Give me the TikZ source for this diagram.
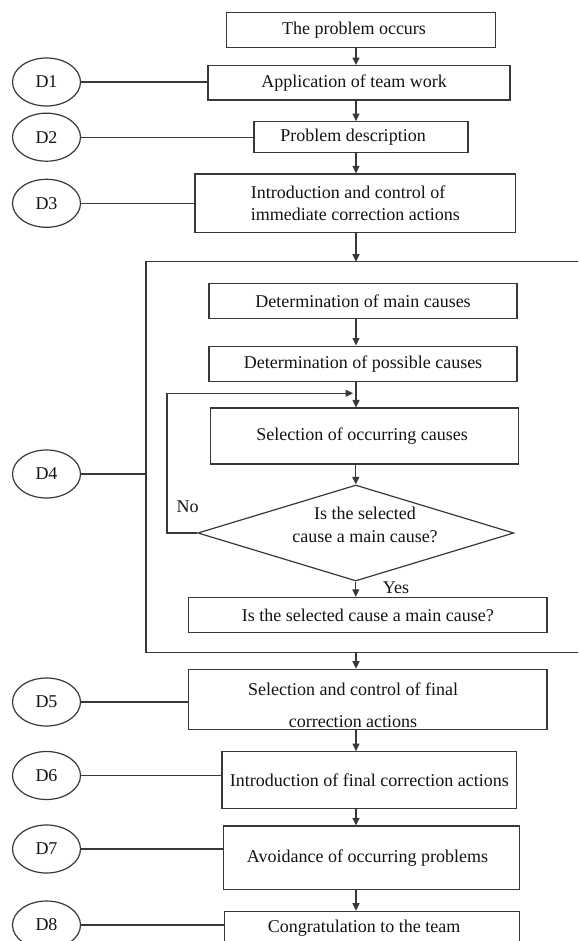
\documentclass[tikz,border=0pt]{standalone}
\usepackage{fontspec}
\setmainfont{Liberation Serif}
\usetikzlibrary{shapes.geometric,arrows.meta}
\begin{document}
\begin{tikzpicture}[x=1pt,y=-1pt,
  line/.style={draw=black!78,line width=1.2pt},
  arr/.style={line,-{Triangle[length=7.5pt,width=7pt]}},
  txtfont/.style={font=\fontsize{18}{21.6}\selectfont,text=black!92},
  box/.style={line,rectangle,inner sep=0pt,align=center,txtfont},
  dnode/.style={line,ellipse,minimum width=68pt,minimum height=48pt,inner sep=0pt,txtfont},
  lbl/.style={inner sep=0pt,align=center,txtfont},
  dia/.style={line,diamond,minimum width=316pt,minimum height=96pt,inner sep=0pt,aspect=3.29}]
\useasboundingbox (0,0) rectangle (578,941);
\fill[white] (0,0) rectangle (578,941);
\clip (0,0) rectangle (578,941);
\coordinate (ax) at (356,0);
% main column
\node[box,minimum width=269pt,minimum height=34.6pt] (p0) at (361,30) {The problem occurs\hspace*{14pt}};
\node[box,minimum width=302pt,minimum height=34.3pt] (b1) at (359,82.8) {Application of team work\hspace*{10pt}};
\node[box,minimum width=214pt,minimum height=31pt] (b2) at (361,137.2) {Problem description\hspace*{16pt}};
\node[box,align=left,minimum width=320.7pt,minimum height=58.7pt] (b3) at (355.4,203.3) {Introduction and control of\\immediate correction actions};
% D4 frame
\coordinate (ftl) at (146,261.7);
\coordinate (ftr) at (600,261.7);
\coordinate (fbl) at (146,652.3);
\coordinate (fbr) at (600,652.3);
\draw[line] (ftr) -- (ftl) -- (fbl) -- (fbr);
\node[box,minimum width=308pt,minimum height=35.7pt] (m1) at (363,301) {Determination of main causes};
\node[box,minimum width=308pt,minimum height=35.7pt] (m2) at (363,364) {Determination of possible causes};
\node[box,minimum width=308pt,minimum height=56pt] (m3) at (364.6,436) {Selection of occurring causes\hspace*{5pt}};
\node[dia] (dq) at (355.8,533) {};
\node[lbl] (dqt) at (365,525) {Is the selected\\[1.7pt]cause a main cause?};
\node[box,minimum width=358.4pt,minimum height=35.3pt] (m4) at (367.8,615) {Is the selected cause a main cause?};
% lower column
\node[box,minimum width=358.4pt,minimum height=60pt] (b5) at (367.8,699.3) {};
\node[lbl] (b5t) at (353,705.3) {Selection and control of final\\[10.7pt]correction actions};
\node[box,minimum width=294.7pt,minimum height=57pt] (b6) at (369.4,780.2) {Introduction of final correction actions};
\node[box,minimum width=295.7pt,minimum height=63.3pt] (b7) at (371.5,857.7) {Avoidance of occurring problems\hspace*{8pt}};
\node[box,minimum width=294.6pt,minimum height=34pt] (b8) at (372,928.3) {Congratulation to the team\hspace*{16pt}};
% D ellipses
\node[dnode] (d1) at (46.5,82) {D1};
\node[dnode] (d2) at (46.5,137.2) {D2};
\node[dnode] (d3) at (46.5,203.3) {D3};
\node[dnode] (d4) at (46.5,474) {D4};
\node[dnode] (d5) at (46.5,702) {D5};
\node[dnode] (d6) at (46.5,775.5) {D6};
\node[dnode] (d7) at (46.5,849) {D7};
\node[dnode] (d8) at (46.5,925) {D8};
\draw[line] (d1.east) -- (d1.east -| b1.west);
\draw[line] (d2.east) -- (d2.east -| b2.west);
\draw[line] (d3.east) -- (d3.east -| b3.west);
\draw[line] (d4.east) -- (d4.east -| ftl);
\draw[line] (d5.east) -- (d5.east -| b5.west);
\draw[line] (d6.east) -- (d6.east -| b6.west);
\draw[line] (d7.east) -- (d7.east -| b7.west);
\draw[line] (d8.east) -- (d8.east -| b8.west);
% arrows
\draw[arr] (p0.south -| ax) -- (b1.north -| ax);
\draw[arr] (b1.south -| ax) -- (b2.north -| ax);
\draw[arr] (b2.south -| ax) -- (b3.north -| ax);
\draw[arr] (b3.south -| ax) -- (ftl -| ax);
\draw[arr] (m1.south -| ax) -- (m2.north -| ax);
\draw[arr] (m2.south -| ax) -- (m3.north -| ax);
\draw[arr] (m3.south -| dq.north) -- (dq.north);
\coordinate (lp) at (167,393.3);
\coordinate (lpe) at (353,393.3);
\draw[arr] (dq.west) -- (dq.west -| lp) -- (lp) -- (lpe);
\draw[arr] (dq.south) -- (m4.north -| dq.south);
\draw[arr] (fbl -| ax) -- (b5.north -| ax);
\draw[arr] (b5.south -| ax) -- (b6.north -| ax);
\draw[arr] (b6.south -| ax) -- (b7.north -| ax);
\draw[arr] (b7.south -| ax) -- (b8.north -| ax);
% labels
\node[lbl] (no) at (187.7,506.7) {No};
\node[lbl] (yes) at (396,588) {Yes};
\end{tikzpicture}
\end{document}
